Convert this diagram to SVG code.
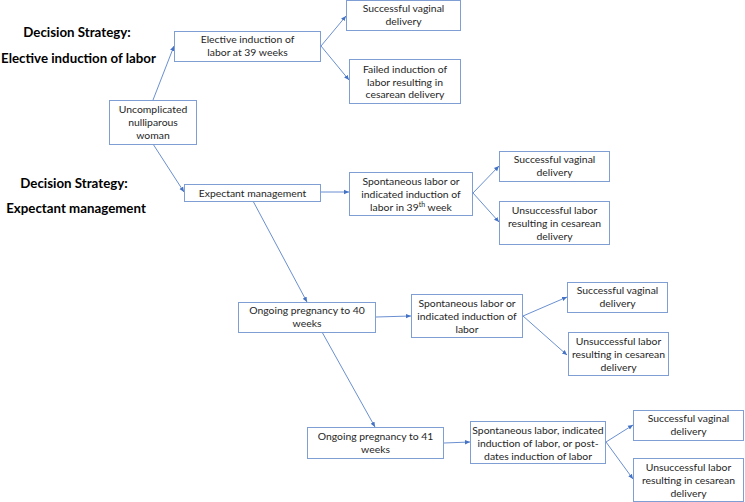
<svg xmlns="http://www.w3.org/2000/svg" width="745" height="502" viewBox="0 0 745 502">
<defs>
<marker id="ah" markerWidth="6" markerHeight="6" refX="5" refY="3" orient="auto" markerUnits="userSpaceOnUse">
<path d="M0,0.8 L5,3 L0,5.2 z" fill="#4472C4"/>
</marker>
<style>
.box{fill:#fff;stroke:#7F9FD4;stroke-width:1}
.t{font-family:Lato,"Liberation Sans",sans-serif;font-size:10.4px;fill:#262626;text-anchor:middle}
.h{font-family:Lato,"Liberation Sans",sans-serif;font-size:13.3px;font-weight:bold;fill:#000;text-anchor:middle}
.c{stroke:#4472C4;stroke-width:0.8;fill:none;marker-end:url(#ah)}
</style>
</defs>
<rect width="745" height="502" fill="#fff"/>
<g id="labels">
<text class="h" x="77" y="37">Decision Strategy:</text>
<text class="h" x="78.5" y="63">Elective induction of labor</text>
<text class="h" x="74" y="188">Decision Strategy:</text>
<text class="h" x="76" y="213">Expectant management</text>
</g>
<g id="connectors">
<line class="c" x1="153" y1="100" x2="174" y2="46"/>
<line class="c" x1="321" y1="46" x2="346" y2="16"/>
<line class="c" x1="321" y1="46" x2="349" y2="80"/>
<line class="c" x1="153" y1="144" x2="184" y2="192"/>
<line class="c" x1="321" y1="192" x2="349" y2="192"/>
<line class="c" x1="473" y1="193" x2="499" y2="166"/>
<line class="c" x1="473" y1="193" x2="499" y2="222"/>
<line class="c" x1="253" y1="201" x2="307" y2="302"/>
<line class="c" x1="376" y1="317" x2="411" y2="316"/>
<line class="c" x1="523" y1="316" x2="567" y2="297"/>
<line class="c" x1="523" y1="316" x2="567" y2="355"/>
<line class="c" x1="322" y1="332" x2="375" y2="427"/>
<line class="c" x1="444" y1="443" x2="470" y2="442"/>
<line class="c" x1="606" y1="442" x2="633" y2="425"/>
<line class="c" x1="606" y1="442" x2="633" y2="479"/>
</g>
<g id="n1"><rect class="box" x="346.5" y="0.5" width="114" height="30"/>
<text class="t" x="403.5" y="12">Successful vaginal</text><text class="t" x="403.5" y="25">delivery</text></g>
<g id="n2"><rect class="box" x="174.5" y="31.5" width="146" height="30"/>
<text class="t" x="247.5" y="43">Elective induction of</text><text class="t" x="247.5" y="56">labor at 39 weeks</text></g>
<g id="n3"><rect class="box" x="349.5" y="59.5" width="111" height="44"/>
<text class="t" x="405" y="73">Failed induction of</text><text class="t" x="405" y="85.5">labor resulting in</text><text class="t" x="405" y="98">cesarean delivery</text></g>
<g id="n4"><rect class="box" x="109.5" y="100.5" width="87" height="44"/>
<text class="t" x="153" y="113">Uncomplicated</text><text class="t" x="153" y="126">nulliparous</text><text class="t" x="153" y="139">woman</text></g>
<g id="n5"><rect class="box" x="184.5" y="184.5" width="136" height="17"/>
<text class="t" x="252.5" y="196.5">Expectant management</text></g>
<g id="n6"><rect class="box" x="349.5" y="172.5" width="123" height="43"/>
<text class="t" x="411" y="185">Spontaneous labor or</text><text class="t" x="411" y="198">indicated induction of</text><text class="t" x="411" y="211">labor in 39<tspan font-size="7" dy="-4">th</tspan><tspan dy="4"> week</tspan></text></g>
<g id="n7"><rect class="box" x="499.5" y="151.5" width="110" height="30"/>
<text class="t" x="554.5" y="163">Successful vaginal</text><text class="t" x="554.5" y="176">delivery</text></g>
<g id="n8"><rect class="box" x="499.5" y="201.5" width="110" height="43"/>
<text class="t" x="554.5" y="214">Unsuccessful labor</text><text class="t" x="554.5" y="227">resulting in cesarean</text><text class="t" x="554.5" y="240">delivery</text></g>
<g id="n9"><rect class="box" x="238.5" y="302.5" width="137" height="30"/>
<text class="t" x="307" y="314">Ongoing pregnancy to 40</text><text class="t" x="307" y="327">weeks</text></g>
<g id="n10"><rect class="box" x="411.5" y="294.5" width="111" height="43"/>
<text class="t" x="467" y="307">Spontaneous labor or</text><text class="t" x="467" y="320">indicated induction of</text><text class="t" x="467" y="333">labor</text></g>
<g id="n11"><rect class="box" x="567.5" y="282.5" width="100" height="30"/>
<text class="t" x="617.5" y="294">Successful vaginal</text><text class="t" x="617.5" y="307">delivery</text></g>
<g id="n12"><rect class="box" x="568.5" y="332.5" width="100" height="43"/>
<text class="t" x="618.5" y="345">Unsuccessful labor</text><text class="t" x="618.5" y="358">resulting in cesarean</text><text class="t" x="618.5" y="371">delivery</text></g>
<g id="n13"><rect class="box" x="307.5" y="427.5" width="136" height="31"/>
<text class="t" x="375.5" y="440">Ongoing pregnancy to 41</text><text class="t" x="375.5" y="453">weeks</text></g>
<g id="n14"><rect class="box" x="470.5" y="421.5" width="135" height="42"/>
<text class="t" x="538" y="433.5">Spontaneous labor, indicated</text><text class="t" x="538" y="446.5">induction of labor, or post-</text><text class="t" x="538" y="459.5">dates induction of labor</text></g>
<g id="n15"><rect class="box" x="633.5" y="410.5" width="110" height="30"/>
<text class="t" x="688.5" y="422">Successful vaginal</text><text class="t" x="688.5" y="435">delivery</text></g>
<g id="n16"><rect class="box" x="633.5" y="458.5" width="110" height="43"/>
<text class="t" x="688.5" y="471">Unsuccessful labor</text><text class="t" x="688.5" y="484">resulting in cesarean</text><text class="t" x="688.5" y="497">delivery</text></g>
</svg>
